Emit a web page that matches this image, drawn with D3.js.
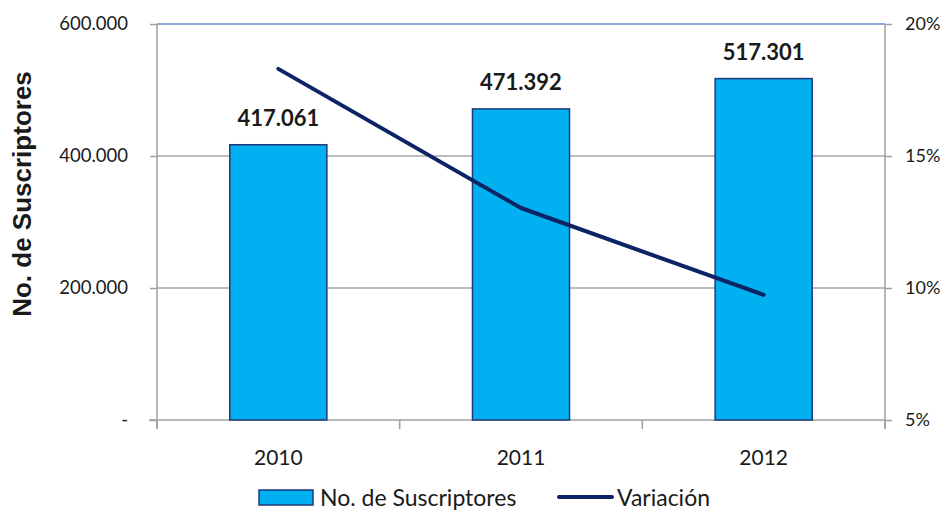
<!DOCTYPE html>
<html>
<head>
<meta charset="utf-8">
<script src="https://cdn.jsdelivr.net/npm/d3@7/dist/d3.min.js"></script>
<style>
  body { margin: 0; background: #fff; }
  text { font-family: Lato, "Open Sans", sans-serif; fill: #1a1a1a; }
</style>
</head>
<body>
<div id="holder"></div>
<script>
// data
var years = ["2010", "2011", "2012"];
var suscriptores = [417061, 471392, 517301];
var variacion = [18.3, 13.03, 9.74];
var leftTicks = [0, 200000, 400000, 600000];
var rightTicks = [5, 10, 15, 20];
var seriesNames = ["No. de Suscriptores", "Variación"];

var WIDTH = 945, HEIGHT = 510,
    MARGINS = { top: 24, right: 60, bottom: 90, left: 157 };

var svg = d3.select("#holder").append("svg")
    .attr("width", WIDTH)
    .attr("height", HEIGHT);

var x = d3.scaleBand()
    .domain(years)
    .range([MARGINS.left, WIDTH - MARGINS.right])
    .paddingInner(0.6)
    .paddingOuter(0.3);

var xTicks = d3.scalePoint()
    .domain(d3.range(years.length + 1))
    .range([MARGINS.left, WIDTH - MARGINS.right]);

var y = d3.scaleLinear()
    .domain([0, 600000])
    .range([HEIGHT - MARGINS.bottom, MARGINS.top]);

var y2 = d3.scaleLinear()
    .domain([5, 20])
    .range([HEIGHT - MARGINS.bottom, MARGINS.top]);

var fmt = function(d) { return d === 0 ? "-" : d3.format(",")(d).replace(/,/g, "."); };

// gridlines
svg.append("g")
  .selectAll("line")
  .data(leftTicks.slice(1))
  .enter().append("line")
    .attr("x1", MARGINS.left)
    .attr("x2", WIDTH - MARGINS.right)
    .attr("y1", function(d) { return y(d); })
    .attr("y2", function(d) { return y(d); })
    .attr("stroke", function(d) { return d === 600000 ? "#5b8fd0" : "#a6a6a6"; })
    .attr("stroke-width", 1.5);

// left axis
var gl = svg.append("g")
    .attr("transform", "translate(" + MARGINS.left + ",0)")
    .call(d3.axisLeft(y).tickValues(leftTicks).tickFormat(fmt).tickSize(7).tickPadding(22));
gl.select(".domain").attr("stroke", "#a0a0a0").attr("stroke-width", 1.5)
  .attr("d", "M0," + y(600000) + "V" + (y(0) + 9));
gl.selectAll(".tick line").attr("stroke", "#a0a0a0").attr("stroke-width", 1.5);
gl.selectAll(".tick text").style("font-size", "18.5px").attr("fill", "#1a1a1a");

// right axis
var gr = svg.append("g")
    .attr("transform", "translate(" + (WIDTH - MARGINS.right) + ",0)")
    .call(d3.axisRight(y2).tickValues(rightTicks).tickFormat(function(d) { return d + "%"; }).tickSize(7).tickPadding(13));
gr.select(".domain").attr("stroke", "#a0a0a0").attr("stroke-width", 1.5)
  .attr("d", "M0," + y2(20) + "V" + (y2(5) + 9));
gr.selectAll(".tick line").attr("stroke", "#a0a0a0").attr("stroke-width", 1.5);
gr.selectAll(".tick text").style("font-size", "18px").attr("fill", "#1a1a1a");

// x axis
var gx = svg.append("g")
    .attr("transform", "translate(0," + y(0) + ")");
gx.append("line")
    .attr("x1", MARGINS.left - 8).attr("x2", WIDTH - MARGINS.right)
    .attr("stroke", "#a0a0a0").attr("stroke-width", 1.5);
gx.selectAll(".xt")
  .data(d3.range(years.length + 1))
  .enter().append("line")
    .attr("class", "xt")
    .attr("x1", function(d) { return xTicks(d); })
    .attr("x2", function(d) { return xTicks(d); })
    .attr("y1", 0).attr("y2", 9)
    .attr("stroke", "#a0a0a0").attr("stroke-width", 1.5);
gx.selectAll(".xl")
  .data(years)
  .enter().append("text")
    .attr("class", "xl")
    .attr("x", function(d) { return x(d) + x.bandwidth() / 2; })
    .attr("y", 45)
    .attr("text-anchor", "middle")
    .style("font-size", "21px")
    .text(function(d) { return d; });

// bars
svg.append("g")
  .selectAll("rect")
  .data(suscriptores)
  .enter().append("rect")
    .attr("x", function(d, i) { return x(years[i]); })
    .attr("y", function(d) { return y(d); })
    .attr("width", x.bandwidth())
    .attr("height", function(d) { return y(0) - y(d); })
    .attr("fill", "#00b0f0")
    .attr("stroke", "#1f3a78")
    .attr("stroke-width", 1.5);

// bar labels
svg.append("g")
  .selectAll("text")
  .data(suscriptores)
  .enter().append("text")
    .attr("x", function(d, i) { return x(years[i]) + x.bandwidth() / 2; })
    .attr("y", function(d) { return y(d) - 19; })
    .attr("text-anchor", "middle")
    .style("font-size", "22px")
    .style("font-weight", "bold")
    .text(function(d) { return fmt(d); });

// line
var valueline = d3.line()
    .x(function(d, i) { return x(years[i]) + x.bandwidth() / 2; })
    .y(function(d) { return y2(d); });
svg.append("path")
    .datum(variacion)
    .attr("fill", "none")
    .attr("stroke", "#0c2466")
    .attr("stroke-width", 4)
    .attr("stroke-linejoin", "round")
    .attr("stroke-linecap", "round")
    .attr("d", valueline);

// y title
svg.append("text")
    .attr("transform", "translate(31,194) rotate(-90)")
    .attr("text-anchor", "middle")
    .style("font-family", "'Liberation Sans', Arial, sans-serif")
    .style("font-size", "26px")
    .style("font-weight", "bold")
    .attr("fill", "#000")
    .text(seriesNames[0]);

// legend
var lg = svg.append("g");
lg.append("rect")
    .attr("x", 259).attr("y", 490).attr("width", 54).attr("height", 15)
    .attr("fill", "#00b0f0").attr("stroke", "#1f3a78").attr("stroke-width", 1.5);
lg.append("text")
    .attr("x", 320).attr("y", 506)
    .style("font-size", "23px")
    .text(seriesNames[0]);
lg.append("line")
    .attr("x1", 559).attr("x2", 612).attr("y1", 497).attr("y2", 497)
    .attr("stroke", "#0c2466").attr("stroke-width", 4).attr("stroke-linecap", "round");
lg.append("text")
    .attr("x", 617).attr("y", 506)
    .style("font-size", "23px")
    .text(seriesNames[1]);
</script>
</body>
</html>
